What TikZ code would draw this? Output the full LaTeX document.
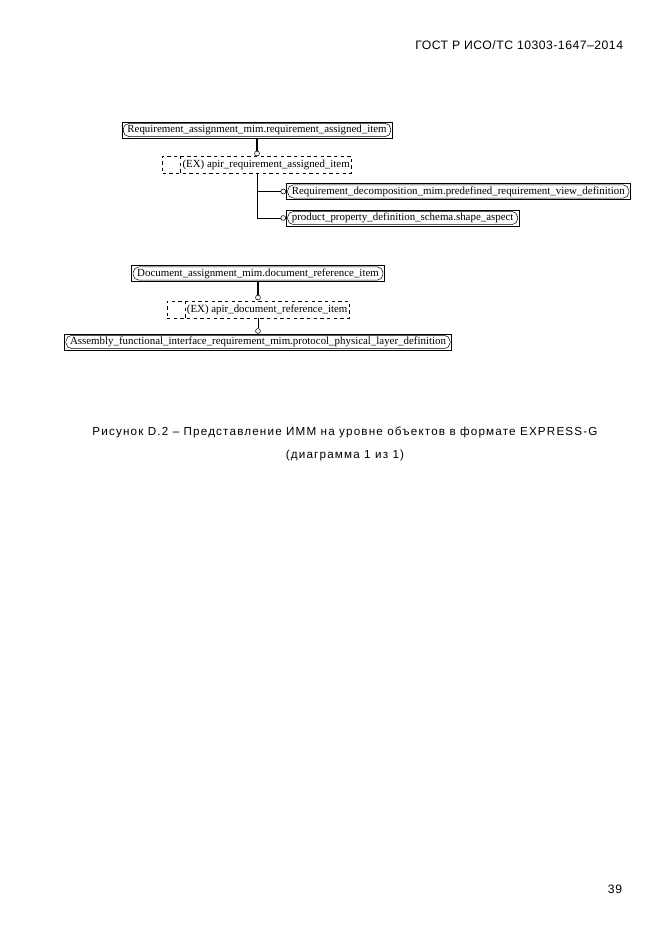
\documentclass[tikz,border=0pt]{standalone}
\usepackage{fontspec}
\setmainfont{Liberation Sans}
\newfontfamily\boxfont{Liberation Serif}
\newfontfamily\capfont[LetterSpace=10]{Liberation Sans}
\newfontfamily\headfont[LetterSpace=4]{Liberation Sans}
\tikzset{
    ent/.style={draw, line width=0.5pt, inner xsep=5pt, inner ysep=0pt, minimum height=14.4pt,
        font=\boxfont\fontsize{9.8}{10}\selectfont,
        path picture={\draw[line width=0.45pt, rounded corners=5pt]
            ([shift={(1.3pt,-1.3pt)}]path picture bounding box.north west) rectangle
            ([shift={(-1.3pt,1.3pt)}]path picture bounding box.south east);}},
    exbox/.style={draw, dashed, line width=0.5pt, inner xsep=1.5pt, inner ysep=0pt, minimum height=15.3pt,
        font=\boxfont\fontsize{9.8}{10}\selectfont,
        path picture={\draw[dashed, line width=0.5pt]
            ([xshift=16.2pt]path picture bounding box.north west) --
            ([xshift=16.2pt]path picture bounding box.south west);}},
    port/.style={circle, draw, fill=white, inner sep=0pt, minimum size=4.4pt, line width=0.5pt},
    thickline/.style={line width=1.2pt},
    link/.style={line width=0.5pt}
}
\begin{document}
\begin{tikzpicture}[x=0.9pt, y=-0.9pt]
    \useasboundingbox (0,0) rectangle (661,935);
    % header
    \node[anchor=base east, font=\headfont\fontsize{11}{13}\selectfont] (head) at (627,49) {ГОСТ Р ИСО/ТС 10303-1647–2014};
    % (1) requirement assigned item
    \node[ent] (req) at (257,130) {Requirement\_assignment\_mim.requirement\_assigned\_item};
    \node[exbox] (exreq) at (257,164.5) {\hspace*{16.5pt}(EX) apir\_requirement\_assigned\_item};
    \node[port] (oreq) at (257,153.5) {};
    \draw[thickline] (req.south) -- (oreq.north);
    \foreach \nm/\y/\lab in {decomp/191.5/{Requirement\_decomposition\_mim.predefined\_requirement\_view\_definition},
                             shape/218/{product\_property\_definition\_schema.shape\_aspect}} {
        \node[ent, anchor=west] (\nm) at (286,\y) {\lab};
        \node[port, anchor=east] (o\nm) at (\nm.west) {};
        \draw[link] (exreq.south) |- (o\nm.west);
    }
    % (2) document reference item
    \node[ent] (doc) at (258,273.5) {Document\_assignment\_mim.document\_reference\_item};
    \node[exbox] (exdoc) at (258,309.5) {\hspace*{16.5pt}(EX) apir\_document\_reference\_item};
    \node[port] (odoc) at (258,297.5) {};
    \draw[thickline] (doc.south) -- (odoc.north);
    \node[ent] (proto) at (258,342) {Assembly\_functional\_interface\_requirement\_mim.protocol\_physical\_layer\_definition};
    \node[port, anchor=south] (oproto) at (proto.north) {};
    \draw[link] (exdoc.south) -- (oproto.north);
    % caption
    \node[anchor=base, font=\capfont\fontsize{10.5}{12}\selectfont] (cap1) at (345,435) {Рисунок D.2 – Представление ИММ на уровне объектов в формате EXPRESS-G};
    \node[anchor=base, font=\capfont\fontsize{10.5}{12}\selectfont] (cap2) at (345,458) {(диаграмма 1 из 1)};
    % page number
    \node[anchor=base east, font=\headfont\fontsize{11}{13}\selectfont] (pnum) at (626,893) {39};
\end{tikzpicture}
\end{document}
